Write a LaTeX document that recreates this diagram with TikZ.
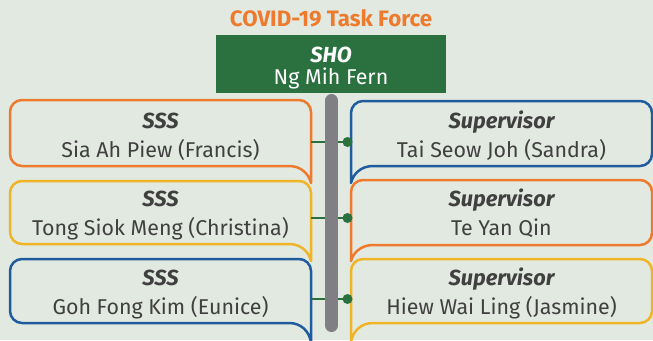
\documentclass[tikz,border=0pt]{standalone}
\usepackage{fontspec}
\setmainfont{Fira Sans}
\definecolor{bg}{HTML}{E2E9E0}
\definecolor{tforange}{HTML}{EE7A2E}
\definecolor{tfyellow}{HTML}{F0B526}
\definecolor{tfblue}{HTML}{1F5C9E}
\definecolor{tfgreen}{HTML}{2B7140}
\definecolor{tfgrey}{HTML}{7F7F84}
\definecolor{tftext}{HTML}{404040}
% speech-bubble box, tail at the lower right: {left}{right}{top}{bottom}{tip}{colour}
\newcommand\lbubble[6]{%
  \draw[bubble,#6] (#1,#3+12) arc[start angle=180,end angle=270,radius=12]
    -- (#2-12,#3) arc[start angle=270,end angle=360,radius=12]
    -- (#2,#5) .. controls (#2-2,#4+8) and (#2-10,#4) .. (#2-22,#4)
    -- (#1+12,#4) arc[start angle=90,end angle=180,radius=12] -- cycle;}
% speech-bubble box, tail at the lower left
\newcommand\rbubble[6]{%
  \draw[bubble,#6] (#1,#5) -- (#1,#3+12) arc[start angle=180,end angle=270,radius=12]
    -- (#2-12,#3) arc[start angle=270,end angle=360,radius=12]
    -- (#2,#4-12) arc[start angle=0,end angle=90,radius=12]
    -- (#1+22,#4) .. controls (#1+10,#4) and (#1+2,#4+8) .. (#1,#5) -- cycle;}
\tikzset{
  bubble/.style={line width=2.5pt, line join=round},
  role/.style={anchor=base, inner sep=0pt, text=tftext, font=\fontsize{21.8}{24}\selectfont\bfseries\itshape},
  person/.style={anchor=base, inner sep=0pt, text=tftext, font=\fontsize{21.4}{24}\selectfont},
  conn/.style={draw=tfgreen, line width=2pt},
  dot/.style={circle, fill=tfgreen, minimum size=10pt, inner sep=0pt},
}
\begin{document}
\begin{tikzpicture}[x=1pt,y=-1pt]
  \fill[bg] (0,0) rectangle (653,340);
  \useasboundingbox (0,0) rectangle (653,340);
  \clip (0,0) rectangle (653,340);

  % title and head of the task force
  \node[anchor=base, inner sep=0pt, text=tforange, font=\fontsize{22.3}{24}\selectfont\bfseries] (title) at (331,27) {COVID-19 Task Force};
  \fill[tfgreen] (216,35) rectangle (446,93);
  \node[role, text=white] (shorole) at (331,62) {SHO};
  \node[person, text=white] (shoname) at (331,84) {Ng Mih Fern};

  % left column boxes
  \lbubble{10}{311}{100}{166}{183}{tforange}
  \lbubble{10}{311}{181}{244}{261}{tfyellow}
  \lbubble{10}{311}{259}{323}{342}{tfblue}
  % right column boxes
  \rbubble{351}{652}{101}{166}{183}{tfblue}
  \rbubble{351}{652}{180}{245}{261}{tforange}
  \rbubble{351}{652}{259}{323}{342}{tfyellow}

  % connectors between the two columns
  \coordinate (c1) at (311,142);
  \coordinate (c2) at (311,218);
  \coordinate (c3) at (311,299);
  \node[dot] (d1) at (347.5,142) {};
  \node[dot] (d2) at (347.5,218) {};
  \node[dot] (d3) at (347.5,299) {};
  \draw[conn] (c1) -- (d1.center);
  \draw[conn] (c2) -- (d2.center);
  \draw[conn] (c3) -- (d3.center);

  % central trunk
  \coordinate (trunktop) at (331.5,100.5);
  \coordinate (trunkbot) at (331.5,325.5);
  \draw[tfgrey, line width=13pt, line cap=round] (trunktop) -- (trunkbot);

  % texts, left column
  \node[role] (l1r) at (160.5,128) {SSS};
  \node[person] (l1n) at (160.5,157) {Sia Ah Piew (Francis)};
  \node[role] (l2r) at (160.5,206) {SSS};
  \node[person] (l2n) at (160.5,235) {Tong Siok Meng (Christina)};
  \node[role] (l3r) at (160.5,285) {SSS};
  \node[person] (l3n) at (160.5,314) {Goh Fong Kim (Eunice)};
  % texts, right column
  \node[role] (r1r) at (501.5,128) {Supervisor};
  \node[person] (r1n) at (501.5,157) {Tai Seow Joh (Sandra)};
  \node[role] (r2r) at (501.5,206) {Supervisor};
  \node[person] (r2n) at (501.5,235) {Te Yan Qin};
  \node[role] (r3r) at (501.5,285) {Supervisor};
  \node[person] (r3n) at (501.5,314) {Hiew Wai Ling (Jasmine)};
\end{tikzpicture}
\end{document}
